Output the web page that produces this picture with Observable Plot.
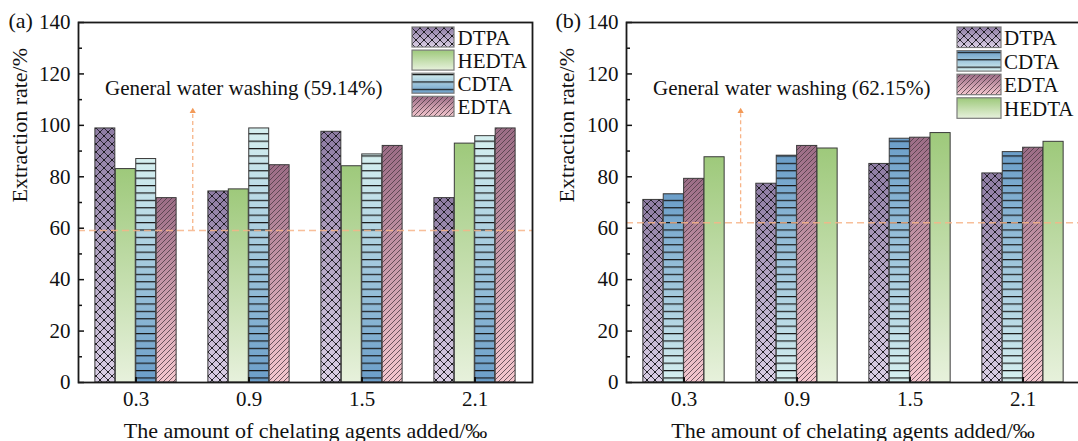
<!DOCTYPE html>
<html>
<head>
<meta charset="utf-8">
<script src="https://cdn.jsdelivr.net/npm/d3@7"></script>
<script src="https://cdn.jsdelivr.net/npm/@observablehq/plot@0.6"></script>
<style>
  html, body { margin: 0; padding: 0; background: #fff; overflow: hidden; }
  #wrap { position: relative; width: 1094px; height: 441px; }
  .panel { position: absolute; top: 0; }
  #legend { position: absolute; left: 0; top: 0; pointer-events: none; overflow: visible; }
  #defs { position: absolute; width: 0; height: 0; }
</style>
</head>
<body>
<div id="wrap"></div>
<script>
// ---- data -------------------------------------------------------------
const groups = ["0.3", "0.9", "1.5", "2.1"];

// panel (a)
const seriesA = ["DTPA", "HEDTA", "CDTA", "EDTA"];
const dtpaA  = [98.8, 74.3, 97.5, 71.7];
const hedtaA = [83.0, 75.1, 84.1, 92.9];
const cdtaA  = [86.9, 98.8, 88.7, 95.8];
const edtaA  = [71.7, 84.5, 92.0, 98.8];
const washA = 59.14;

// panel (b)
const seriesB = ["DTPA", "CDTA", "EDTA", "HEDTA"];
const dtpaB  = [71.0, 77.3, 85.0, 81.3];
const cdtaB  = [73.2, 88.2, 94.8, 89.6];
const edtaB  = [79.2, 92.0, 95.2, 91.3];
const hedtaB = [87.6, 91.0, 97.0, 93.6];
const washB = 62.15;

const yMajor = [0, 20, 40, 60, 80, 100, 120, 140];
const yMinor = [10, 30, 50, 70, 90, 110, 130];
const xTitle = "The amount of chelating agents added/‰";
const yTitle = "Extraction rate/%";

// ---- fills: gradients + hatch patterns ---------------------------------
const FONT = "'Liberation Serif', 'Times New Roman', serif";
const defsSvg = d3.select("body").append("svg").attr("id", "defs");
const defs = defsSvg.append("defs");
function gradient(id, top, bottom) {
  const g = defs.append("linearGradient").attr("id", id)
    .attr("x1", 0).attr("y1", 0).attr("x2", 0).attr("y2", 1);
  g.append("stop").attr("offset", "0%").attr("stop-color", top);
  g.append("stop").attr("offset", "100%").attr("stop-color", bottom);
}
gradient("g-dtpa", "#8e7ca3", "#dacfe5");
gradient("g-hedta", "#9ec97b", "#e7f1dc");
gradient("g-cdta-a", "#d6f0f0", "#6b9ec9");
gradient("g-cdta-b", "#6b9ec9", "#d6f0f0");
gradient("g-edta", "#9c6d86", "#f4c7ce");

const cross = defs.append("pattern").attr("id", "p-cross")
  .attr("patternUnits", "userSpaceOnUse").attr("width", 8).attr("height", 8);
cross.append("path").attr("d", "M-2,-2L10,10M10,-2L-2,10")
  .attr("stroke", "#1f1a26").attr("stroke-width", 0.85).attr("fill", "none");
for (const [cx, cy] of [[0, 0], [8, 0], [0, 8], [8, 8], [4, 4]]) {
  cross.append("circle").attr("cx", cx).attr("cy", cy).attr("r", 0.9).attr("fill", "#111");
}
const horiz = defs.append("pattern").attr("id", "p-horiz")
  .attr("patternUnits", "userSpaceOnUse").attr("width", 10).attr("height", 7.4);
horiz.append("path").attr("d", "M0,0.6H10")
  .attr("stroke", "#161616").attr("stroke-width", 1.2).attr("fill", "none");
const diag = defs.append("pattern").attr("id", "p-diag")
  .attr("patternUnits", "userSpaceOnUse").attr("width", 5).attr("height", 5);
diag.append("path").attr("d", "M-1,6L6,-1M-1,1L1,-1M4,6L6,4")
  .attr("stroke", "#4b3a44").attr("stroke-width", 0.8).attr("fill", "none");

function fills(name, panel) {
  switch (name) {
    case "DTPA": return ["url(#g-dtpa)", "url(#p-cross)"];
    case "HEDTA": return ["url(#g-hedta)", "none"];
    case "CDTA": return [`url(#g-cdta-${panel})`, "url(#p-horiz)"];
    case "EDTA": return ["url(#g-edta)", "url(#p-diag)"];
  }
}

// ---- layout ------------------------------------------------------------
const W = 547, H = 441, mTop = 22, mBottom = 59, mRight = 15;

function panel({tag, panelKey, series, values, wash, marginLeft}) {
  const rows = series.flatMap((s, i) => groups.map((g, j) => ({series: s, group: g, value: values[i][j]})));
  const plotW = W - marginLeft - mRight, plotH = H - mTop - mBottom;
  const step = plotW / groups.length;
  const bw = step * 0.18;
  const pad0 = (step - bw * series.length) / 2;
  const orange = "#f7b488";
  const marks = [];

  series.forEach((s, i) => {
    const data = rows.filter(d => d.series === s);
    const geo = {x: "group", y1: 0, y2: "value", insetLeft: pad0 + i * bw, insetRight: step - pad0 - (i + 1) * bw};
    const [grad, pat] = fills(s, panelKey);
    marks.push(Plot.barY(data, {...geo, fill: grad}));
    marks.push(Plot.barY(data, {...geo, fill: pat, stroke: "#3a3a3a", strokeWidth: 1}));
  });

  // water-washing reference level and its arrow
  const arrowTop = 105.5;
  marks.push(Plot.ruleY([wash], {stroke: orange, strokeOpacity: 0.85, strokeWidth: 1.5, strokeDasharray: "7,4"}));
  marks.push(Plot.ruleX([{g: groups[0], y1: wash, y2: arrowTop}], {x: "g", y1: "y1", y2: "y2", dx: step / 2, stroke: orange, strokeWidth: 1.3, strokeDasharray: "4,3"}));
  marks.push(Plot.dot([{g: groups[0], y: arrowTop}], {x: "g", y: "y", dx: step / 2, symbol: "triangle", r: 2.3, fill: "#f39a58", stroke: "none"}));
  marks.push(Plot.text([`General water washing (${wash.toFixed(2)}%)`], {
    x: () => groups[0], y: () => 112, text: d => d, dx: -31,
    textAnchor: "start", lineAnchor: "bottom", fontSize: 21, fill: "#111"
  }));

  // inward ticks
  marks.push(Plot.tickY(yMajor, {y: d => d, insetRight: plotW - 6, stroke: "#111", strokeWidth: 1.5}));
  marks.push(Plot.tickY(yMinor, {y: d => d, insetRight: plotW - 4, stroke: "#111", strokeWidth: 1.5}));
  marks.push(Plot.tickX(groups, {x: d => d, insetTop: plotH - 5, stroke: "#111", strokeWidth: 2}));

  // titles
  marks.push(Plot.text([tag], {text: d => d, frameAnchor: "top-left", dx: 8 - marginLeft, dy: 5.5, textAnchor: "start", lineAnchor: "bottom", fontSize: 22, fill: "#111"}));
  marks.push(Plot.text([yTitle], {text: d => d, frameAnchor: "left", rotate: -90, dx: 19.5 - marginLeft, fontSize: 22, fill: "#111"}));
  marks.push(Plot.text([xTitle], {text: d => d, frameAnchor: "bottom", dy: 55.5, lineAnchor: "bottom", fontSize: 22, fill: "#111"}));

  marks.push(Plot.frame({stroke: "#1a1a1a", strokeWidth: 1.8}));

  return Plot.plot({
    width: W, height: H,
    marginTop: mTop, marginBottom: mBottom, marginLeft, marginRight: mRight,
    style: {fontFamily: FONT, fontSize: "21px", color: "#111", background: "transparent", overflow: "visible"},
    x: {domain: groups, padding: 0, tickSize: 0, tickPadding: 9, label: null},
    y: {domain: [0, 140], ticks: yMajor, tickSize: 0, tickPadding: 8, tickFormat: d => String(d), label: null},
    marks
  });
}

const wrap = d3.select("#wrap");
const a = panel({tag: "(a)", panelKey: "a", series: seriesA, values: [dtpaA, hedtaA, cdtaA, edtaA], wash: washA, marginLeft: 78});
const b = panel({tag: "(b)", panelKey: "b", series: seriesB, values: [dtpaB, cdtaB, edtaB, hedtaB], wash: washB, marginLeft: 79});
a.classList.add("panel"); a.style.left = "0px";
b.classList.add("panel"); b.style.left = W + "px";
wrap.node().append(a, b);

// ---- legends -----------------------------------------------------------
const legend = wrap.append("svg").attr("id", "legend").attr("width", 1094).attr("height", 441);
function drawLegend(series, panelKey, x0, y0, sw, sh, rowStep, textX) {
  series.forEach((s, i) => {
    const y = y0 + i * rowStep;
    const [grad, pat] = fills(s, panelKey);
    legend.append("rect").attr("x", x0).attr("y", y).attr("width", sw).attr("height", sh).attr("fill", grad);
    legend.append("rect").attr("x", x0).attr("y", y).attr("width", sw).attr("height", sh)
      .attr("fill", pat).attr("stroke", "#7a7a7a").attr("stroke-width", 1.2);
    legend.append("text").attr("x", textX).attr("y", y + sh / 2 + 8)
      .attr("font-family", FONT).attr("font-size", 21).attr("fill", "#111").text(s);
  });
}
drawLegend(seriesA, "a", 412, 27, 42, 20, 23.1, 457.5);
drawLegend(seriesB, "b", 957, 27, 44, 20.5, 23.6, 1004);
</script>
</body>
</html>
